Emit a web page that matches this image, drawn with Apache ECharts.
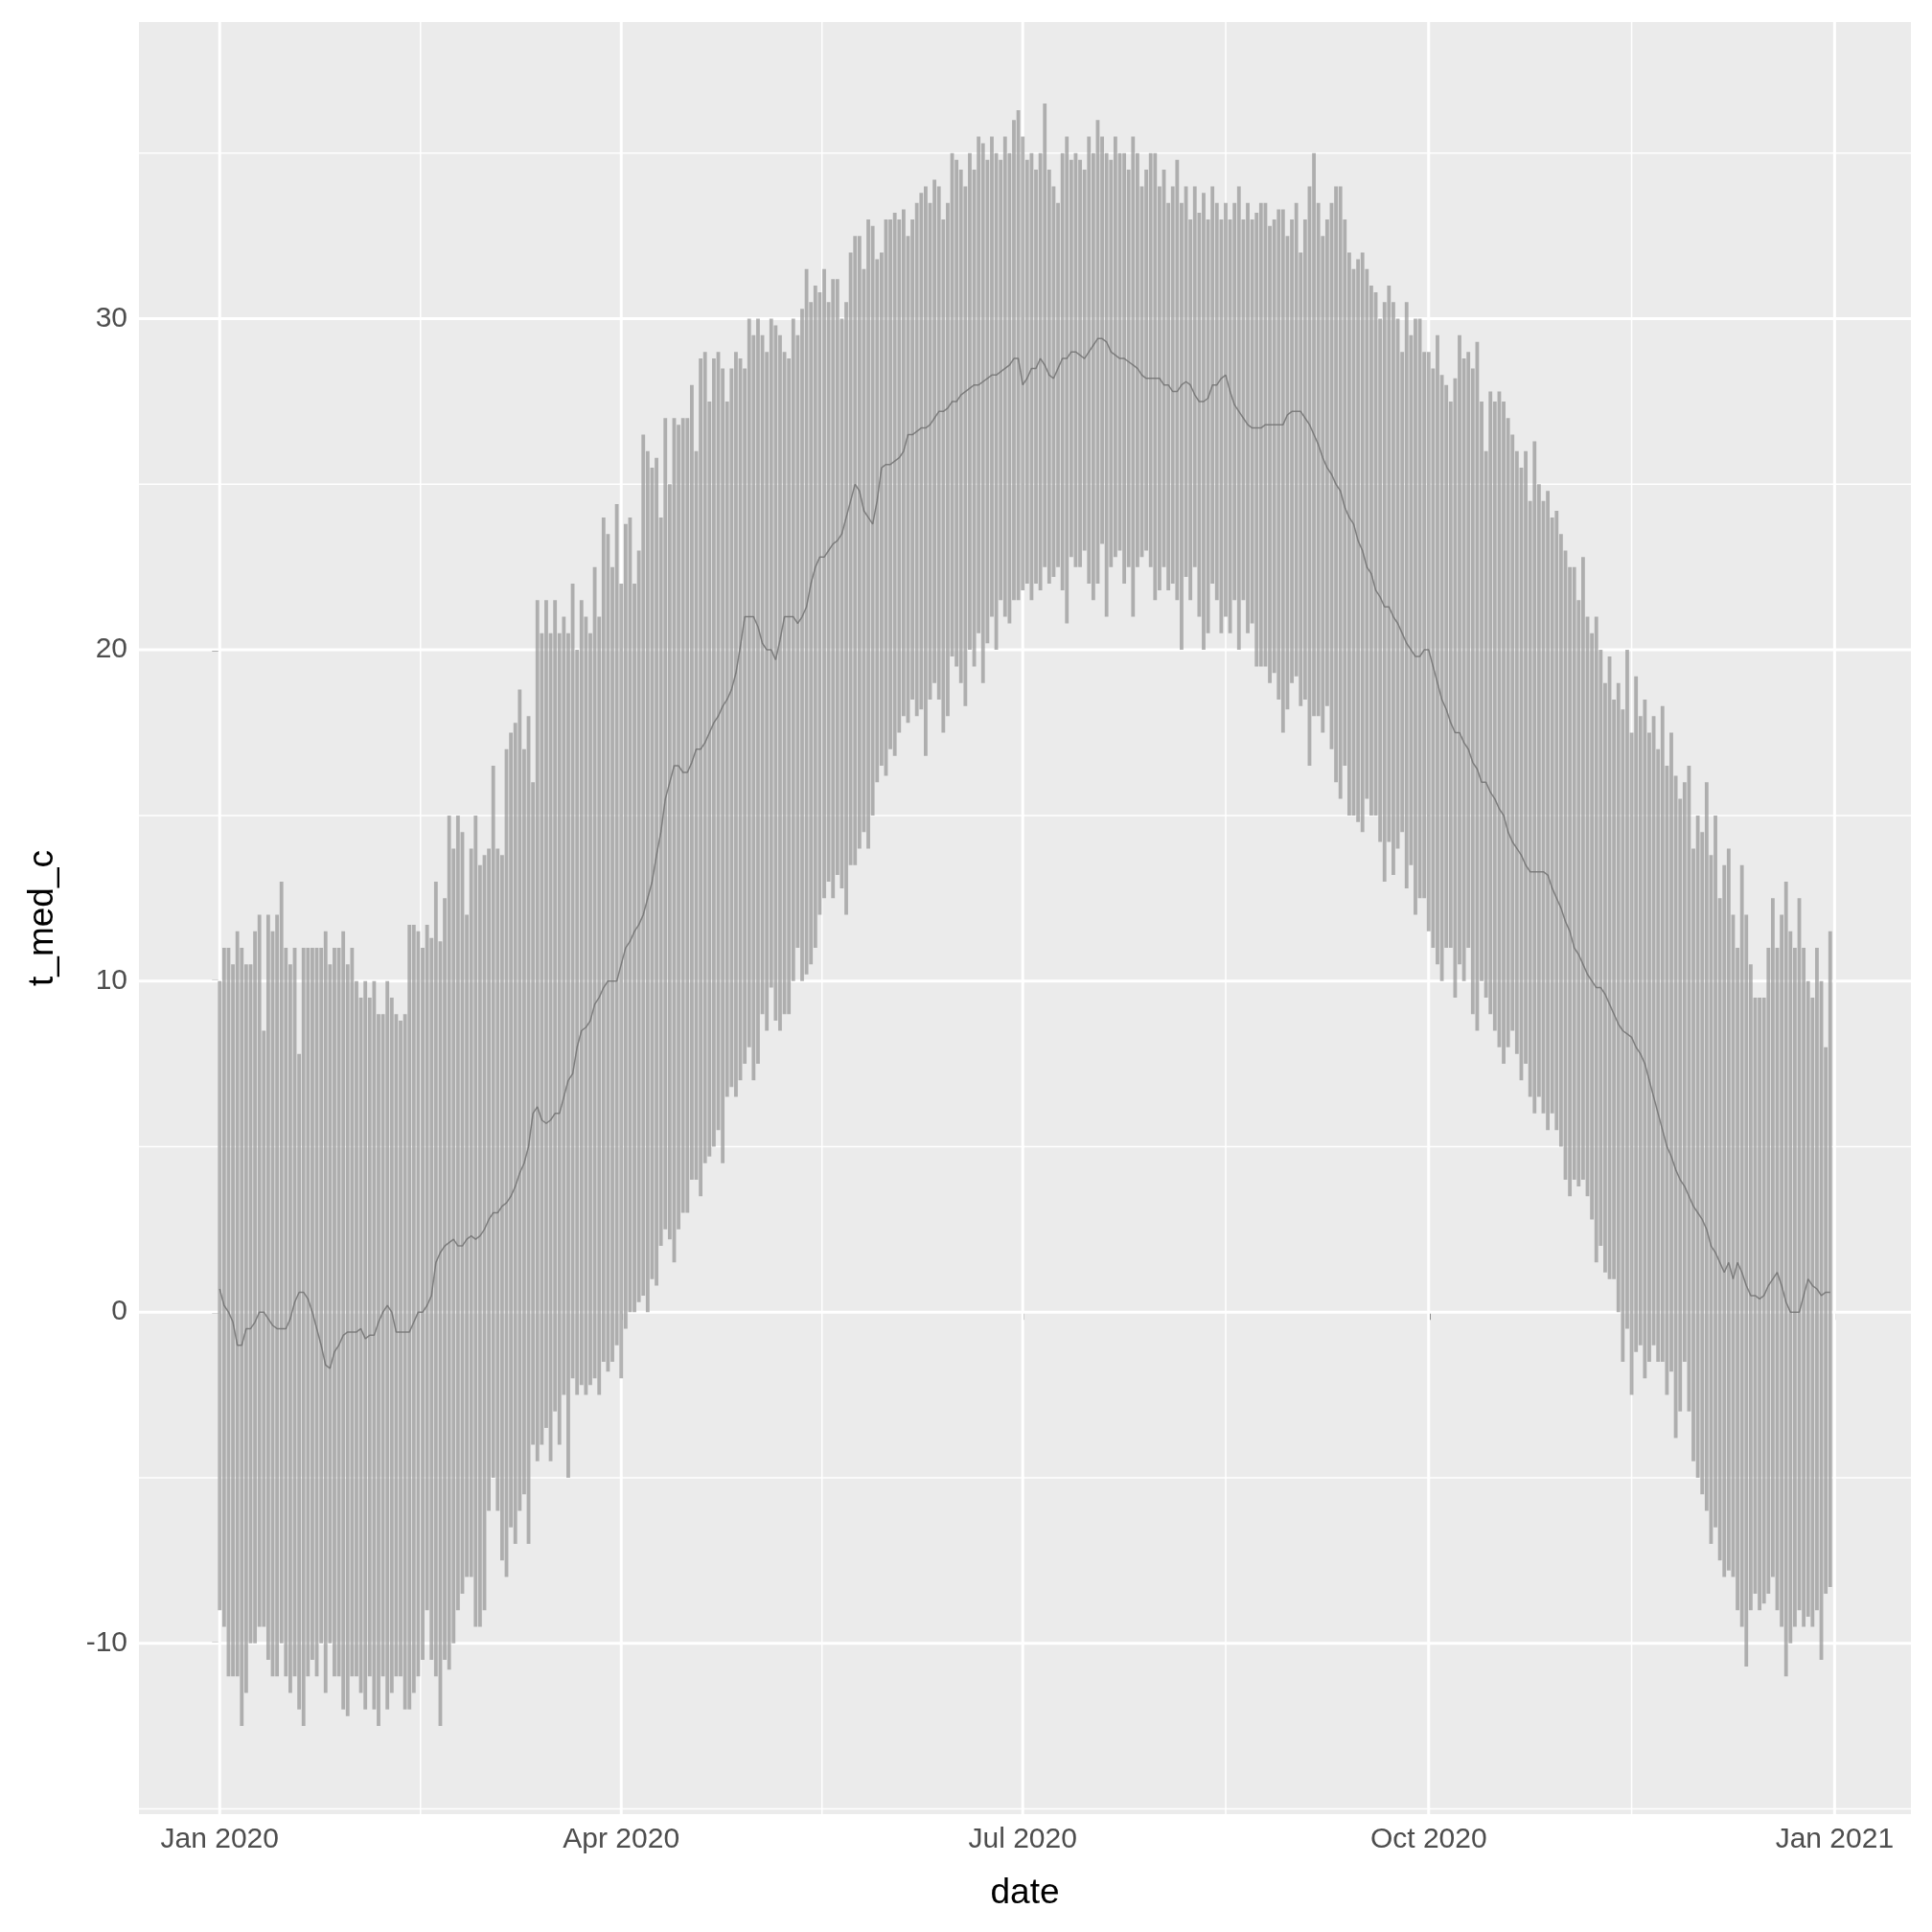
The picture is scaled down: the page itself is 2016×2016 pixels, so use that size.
<!DOCTYPE html>
<html><head><meta charset="utf-8">
<script src="https://cdn.jsdelivr.net/npm/echarts@6/dist/echarts.min.js"></script>
<style>html,body{margin:0;padding:0;background:#fff}#c{width:2016px;height:2016px}</style>
</head><body><div id="c"></div>
<script>
// daily max temperature by month
const maxJan=[10,11,11,10.5,11.5,11,10.5,10.5,11.5,12,8.5,12,11.5,12,13,11,10.5,11,7.8,11,11,11,11,11,11.5,10.5,11,11,11.5,10.5,11];
const maxFeb=[10,9.5,10,9.5,10,9,9,10,9.5,9,8.8,9,11.7,11.7,11.5,11,11.7,11.3,13,11.2,12.5,15,14,15,14.5,12,14,15,13.5];
const maxMar=[13.8,14,16.5,14,13.8,17,17.5,17.8,18.8,17,18,16,21.5,20.5,21.5,20.5,21.5,20.5,21,20.5,22,20,21.5,21,20.5,22.5,21,24,23.5,22.5,24.4];
const maxApr=[22,23.8,24,22,23,26.5,26,25.5,25.8,24,27,25,27,26.8,27,27,28,26,28.8,29,27.5,28.8,29,28.5,27.5,28.5,29,28.8,28.5,30];
const maxMay=[29.5,30,29.5,29,30,29.8,29.5,29,28.8,30,29.5,30.3,31.5,30.5,31,30.8,31.5,30.5,31.2,31.2,30,30.5,32,32.5,32.5,31.5,33,32.8,31.8,32,33];
const maxJun=[33,33.2,33,33.3,32.5,33,33.5,33.8,34,33.5,34.2,34,33,33.5,35,34.8,34.5,34,35,34.5,35.5,35.3,34.8,35.5,35,34.8,35.5,35,36,36.3];
const maxJul=[35.5,34.8,35,34.5,35,36.5,34.5,34,33.5,35,35.5,34.8,35,34.8,34.5,35.5,35,36,35.5,35,34.8,35.5,35,35,34.5,35.5,35,34,34.5,35,35];
const maxAug=[34,34.5,33.5,34,34.8,33.5,34,33,34,33.2,33.8,33,34,33.5,33,33.5,33,33.5,34,33,33.5,33,33.2,33.5,33.5,32.8,33,33.3,33.3,32.5,33];
const maxSep=[33.5,32,33,34,35,33.5,32.5,33,33.5,34,34,33,32,31.5,31.8,32,31.5,31,30.8,30,30.5,31,30.5,30,29,30.5,29.5,30,30,29];
const maxOct=[29,28.5,29.5,28.3,28,27.5,28.2,29.5,28.8,29,28.5,29.3,27.5,26,27.8,27.5,27.8,27.5,27,26.5,26,25.5,26,24.5,26.3,25,24.5,24.8,24,24.2,23.5];
const maxNov=[23,22.5,22.5,21.5,22.8,21,20.5,21,20,19,19.8,18.5,19,18.2,20,17.5,19.2,18,18.5,17.5,18,17,18.3,16.5,17.5,16.2,15.5,16,16.5,14];
const maxDec=[15,14.5,16,13.8,15,12.5,13.5,14,12,11,13.5,12,10.5,9.5,9.5,9.5,11,12.5,11,12,13,11.5,11,12.5,11,10,9.5,11,10,8,11.5];
// daily min temperature by month
const minJan=[-9,-9.5,-11,-11,-11,-12.5,-11.5,-10,-10,-9.5,-9.5,-10.5,-11,-11,-10,-11,-11.5,-11,-12,-12.5,-11,-10.5,-11,-10,-11.5,-10,-11,-11,-12,-12.2,-11];
const minFeb=[-11,-11.5,-12,-11,-12,-12.5,-11,-12,-11.5,-11,-11,-12,-12,-11.5,-11,-10.5,-9,-10.5,-11,-12.5,-10.5,-10.8,-10,-9,-8.5,-8,-8,-9.5,-9.5];
const minMar=[-9,-6,-5,-6,-7.5,-8,-6.5,-7,-6,-5.5,-7,-4,-4.5,-4,-3.5,-4.5,-3,-4,-2.5,-5,-2,-2.5,-2.2,-2.5,-2.2,-2,-2.5,-1.5,-1.8,-1.5,-1];
const minApr=[-2,-0.5,0,0,0.3,0.5,0,1,0.8,2,2.5,2.2,1.5,2.5,3,3,4,4,3.5,4.5,4.7,5,5.5,4.5,6.5,6.8,6.5,7,7.5,8];
const minMay=[7,7.5,9,8.5,9.8,8.8,8.5,9,9,10,11,10,10.2,10.5,11,12,12.5,13,12.5,13.2,12.8,12,13.5,13.5,14,14.5,14,15,16,16.5,16.2];
const minJun=[17,16.8,17.5,18,17.8,18.5,18,18.2,16.8,18.5,19,18.5,17.5,18,19.8,19.5,19,18.3,20,19.5,20.5,19,20.2,21,20,21.5,21,20.8,21.5,21.5];
const minJul=[21.8,22,21.5,22,21.8,22.5,22,22.2,22.5,21.8,20.8,22.8,22.5,22.5,23,22,21.5,22,23.2,21,22.5,22.8,23,22,22.5,21,22.5,22.8,23,22.5,21.5];
const minAug=[21.8,22.5,21.8,22,21.5,20,22.2,21.5,22.5,21,20,20.5,22,21.5,20.5,21,20.5,21.5,20,21.5,20.5,20.8,19.5,19.5,19.5,19,19.3,18.5,17.5,18.2,19];
const minSep=[19.2,18.3,18.5,16.5,18,18,17.5,18.3,17,16,15.5,16.5,15,15,14.8,14.5,15.5,15,15,14.2,13,14.2,13.2,14,14.5,12.8,13.5,12,12.5,12.5];
const minOct=[11.5,11,10.5,10,11,11,9.5,10.5,10,11,9,8.5,10,9.5,9,8.5,8,7.5,8,8.5,7.8,7,7.5,6.5,6,6.5,6,5.5,6,5.5,5];
const minNov=[4,3.5,4,3.8,4,3.5,2.8,1.5,2,1.2,1,1,0,-1.5,-0.5,-2.5,-1.2,-1,-2,-1.5,-1,-1.5,-1.5,-2.5,-1.8,-3.8,-3,-1.5,-3,-4.5];
const minDec=[-5,-5.5,-6,-7,-6.5,-7.5,-8,-7.8,-8,-9,-9.5,-10.7,-9,-8.5,-9,-8.8,-8.5,-8,-9,-9.5,-11,-10,-9.5,-9,-9.5,-9.2,-9.5,-9,-10.5,-8.5,-8.3];
// daily median temperature by month
const medJan=[0.7,0.2,0,-0.3,-1,-1,-0.5,-0.5,-0.3,0,0,-0.2,-0.4,-0.5,-0.5,-0.5,-0.2,0.3,0.6,0.6,0.4,0,-0.5,-1,-1.6,-1.7,-1.2,-1,-0.7,-0.6,-0.6];
const medFeb=[-0.6,-0.5,-0.8,-0.7,-0.7,-0.3,0,0.2,0,-0.6,-0.6,-0.6,-0.6,-0.3,0,0,0.2,0.5,1.5,1.8,2,2.1,2.2,2,2,2.2,2.3,2.2,2.3];
const medMar=[2.5,2.8,3,3,3.2,3.3,3.5,3.8,4.2,4.5,5,6,6.2,5.8,5.7,5.8,6,6,6.5,7,7.2,8,8.5,8.6,8.8,9.3,9.5,9.8,10,10,10];
const medApr=[10.5,11,11.2,11.5,11.7,12,12.5,13,13.8,14.5,15.5,16,16.5,16.5,16.3,16.3,16.6,17,17,17.2,17.5,17.8,18,18.3,18.5,18.8,19.3,20.1,21,21];
const medMay=[21,20.7,20.2,20,20,19.7,20.3,21,21,21,20.8,21,21.3,22,22.5,22.8,22.8,23,23.2,23.3,23.5,24,24.5,25,24.8,24.2,24,23.8,24.5,25.5,25.6];
const medJun=[25.6,25.7,25.8,26,26.5,26.5,26.6,26.7,26.7,26.8,27,27.2,27.2,27.3,27.5,27.5,27.7,27.8,27.9,28,28,28.1,28.2,28.3,28.3,28.4,28.5,28.6,28.8,28.8];
const medJul=[28,28.2,28.5,28.5,28.8,28.6,28.3,28.2,28.5,28.8,28.8,29,29,28.9,28.8,29,29.2,29.4,29.4,29.3,29,28.9,28.8,28.8,28.7,28.6,28.5,28.3,28.2,28.2,28.2];
const medAug=[28.2,28,28,27.8,27.8,28,28.1,28,27.7,27.5,27.5,27.6,28,28,28.2,28.3,27.8,27.4,27.2,27,26.8,26.7,26.7,26.7,26.8,26.8,26.8,26.8,26.8,27.1,27.2];
const medSep=[27.2,27.2,27,26.8,26.5,26.2,25.8,25.5,25.3,25,24.8,24.3,24,23.8,23.3,23,22.5,22.3,21.8,21.6,21.3,21.3,21,20.8,20.5,20.2,20,19.8,19.8,20];
const medOct=[20,19.5,19,18.5,18.2,17.8,17.5,17.5,17.2,17,16.6,16.4,16,16,15.7,15.5,15.2,15,14.5,14.2,14,13.8,13.5,13.3,13.3,13.3,13.3,13.2,12.8,12.5,12.2];
const medNov=[11.8,11.5,11,10.8,10.5,10.2,10,9.8,9.8,9.6,9.3,9,8.7,8.5,8.4,8.3,8,7.8,7.5,7,6.5,6,5.5,5,4.7,4.3,4,3.8,3.5,3.2];
const medDec=[3,2.8,2.5,2,1.8,1.5,1.2,1.5,1,1.5,1.2,0.8,0.5,0.5,0.4,0.5,0.8,1,1.2,0.8,0.3,0,0,0,0.5,1,0.8,0.7,0.5,0.6,0.6];
// axis ticks (days since 2020-01-01)
const xTickDays=[0,91,182,274,366];
const xTickLabels=['Jan 2020','Apr 2020','Jul 2020','Oct 2020','Jan 2021'];
const xMinorDays=[45.5,136.5,228,320];
const yTicks=[-10,0,10,20,30];
const yMinor=[-15,-5,5,15,25,35];

const tmax=[].concat(maxJan,maxFeb,maxMar,maxApr,maxMay,maxJun,maxJul,maxAug,maxSep,maxOct,maxNov,maxDec);
const tmin=[].concat(minJan,minFeb,minMar,minApr,minMay,minJun,minJul,minAug,minSep,minOct,minNov,minDec);
const tmed=[].concat(medJan,medFeb,medMar,medApr,medMay,medJun,medJul,medAug,medSep,medOct,medNov,medDec);
const n=Math.min(tmax.length,tmin.length);
const rangeData=[];for(let i=0;i<n;i++)rangeData.push([i,tmin[i],tmax[i]]);
const medData=tmed.map((v,i)=>[i,v]);

// gridline records: [orientation(0=h,1=v), value, major]
const gridData=[];
yTicks.forEach(v=>gridData.push([0,v,1]));
yMinor.forEach(v=>gridData.push([0,v,0]));
xTickDays.forEach(v=>gridData.push([1,v,1]));
xMinorDays.forEach(v=>gridData.push([1,v,0]));

const XMIN=-18.3,XMAX=383.3,YMIN=-15.16,YMAX=38.96;
const chart=echarts.init(document.getElementById('c'),null,{renderer:'canvas'});
chart.setOption({
  animation:false,
  grid:{left:145,right:22,top:23,bottom:123,show:true,backgroundColor:'#ebebeb',borderWidth:0},
  xAxis:{type:'value',min:XMIN,max:XMAX,name:'date',nameLocation:'middle',nameGap:64,
    nameTextStyle:{fontSize:37,color:'#000',fontFamily:'Liberation Sans'},
    splitLine:{show:false},axisLine:{show:false},
    axisTick:{show:true,customValues:xTickDays,length:8,lineStyle:{color:'#333',width:2.5}},
    axisLabel:{customValues:xTickDays,fontSize:30,color:'#4d4d4d',margin:12,fontFamily:'Liberation Sans',
      formatter:v=>xTickLabels[xTickDays.indexOf(v)]||''}},
  yAxis:{type:'value',min:YMIN,max:YMAX,name:'t_med_c',nameLocation:'middle',nameGap:82,nameRotate:90,
    nameTextStyle:{fontSize:37,color:'#000',fontFamily:'Liberation Sans'},
    splitLine:{show:false},axisLine:{show:false},
    axisTick:{show:true,customValues:yTicks,length:8,lineStyle:{color:'#333',width:2.5}},
    axisLabel:{customValues:yTicks,fontSize:30,color:'#4d4d4d',margin:12,fontFamily:'Liberation Sans'}},
  series:[
    {type:'custom',z:1,silent:true,data:gridData,clip:false,
      renderItem:(params,api)=>{
        const o=api.value(0),v=api.value(1),maj=api.value(2);
        let a,b;
        if(o===0){a=api.coord([XMIN,v]);b=api.coord([XMAX,v]);}
        else{a=api.coord([v,YMIN]);b=api.coord([v,YMAX]);}
        return {type:'line',shape:{x1:a[0],y1:a[1],x2:b[0],y2:b[1]},
          style:{stroke:'#ffffff',lineWidth:maj?3:1.5}};
      }},
    {type:'custom',z:2,data:rangeData,encode:{x:0,y:[1,2]},
      renderItem:(params,api)=>{
        const x=api.value(0);
        const p1=api.coord([x,api.value(1)]),p2=api.coord([x,api.value(2)]);
        return {type:'line',shape:{x1:p1[0],y1:p1[1],x2:p2[0],y2:p2[1]},
          style:{stroke:'rgba(150,150,150,0.72)',lineWidth:3.8}};
      }},
    {type:'line',z:3,data:medData,showSymbol:false,symbol:'none',
      lineStyle:{color:'rgba(110,110,110,0.8)',width:1.5}}
  ]
});
</script></body></html>
